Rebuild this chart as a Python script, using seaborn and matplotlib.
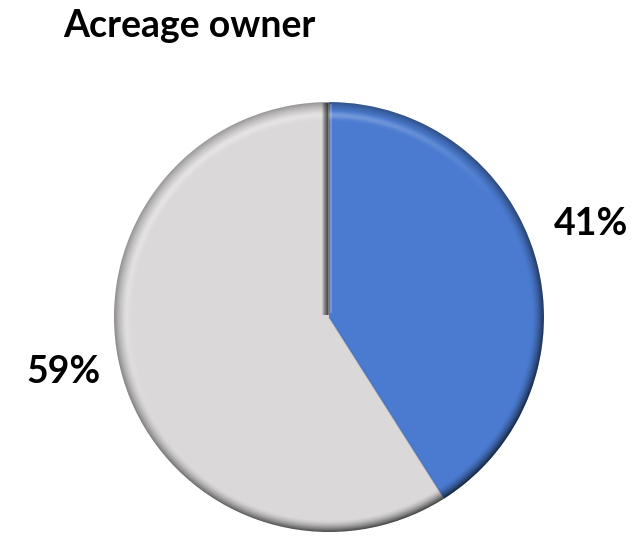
import matplotlib
matplotlib.use("Agg")
import matplotlib.pyplot as plt
import seaborn as sns
import numpy as np
from matplotlib.patches import Circle

sns.set_theme(style="white")
plt.rcParams["font.family"] = ["Lato", "DejaVu Sans"]

categories = ["Owner", "Not owner"]
shares = [41, 59]
pct_labels = ["41%", "59%"]
colors = ["#4a7bd0", "#dad8d9"]
# label anchors (centre x, baseline y) in pie-radius units
label_pos = [(1.22, 0.381), (-1.235, -0.307)]

fig = plt.figure(figsize=(6.41, 5.36), dpi=100)
ax = fig.add_axes([0.1778, 0.0075, 0.6708, 0.802])

wedges, _ = ax.pie(shares, colors=colors, startangle=90, counterclock=False,
                   radius=1.0, wedgeprops=dict(linewidth=0))

# bevel overlay: darker outer rim (deepest toward the lower right)
# and a faint highlight band inside it toward the upper left
n = 700
g = np.linspace(-1, 1, n)
X, Y = np.meshgrid(g, g[::-1])
R = np.hypot(X, Y)
T = np.arctan2(Y, X)
light = np.cos(T - np.deg2rad(125))
ramp = np.clip((R - 0.945) / 0.055, 0, 1) ** 1.6
dark = ramp * (0.30 + 0.12 * (1 - np.abs(light)) + 0.40 * np.clip(-light, 0, None))
shade = np.zeros((n, n, 4))
shade[..., 3] = dark
hi = np.exp(-((R - 0.94) / 0.016) ** 2) * 0.30 * np.clip(light, 0, None)
glow = np.ones((n, n, 4))
glow[..., 3] = hi
clip = Circle((0, 0), 1.0, transform=ax.transData)
for layer in (glow, shade):
    im = ax.imshow(layer, extent=(-1, 1, -1, 1), interpolation="bilinear",
                   zorder=3)
    im.set_clip_path(clip)

# shadow on the grey side of the upright border
px = 1 / 215
for k in range(6):
    ax.plot([-(k + 0.5) * px] * 2, [0.01, 0.997], color="black",
            lw=1.1, alpha=0.55 - k * 0.085, solid_capstyle="butt", zorder=4)
ax.plot([2 * px] * 2, [0.02, 0.99], color="white", lw=1.2, alpha=0.25,
        solid_capstyle="butt", zorder=4)
# faint line along the lower border
t1 = np.deg2rad(wedges[0].theta1)
ax.plot([0, np.cos(t1)], [0, np.sin(t1)], color="#203a6a", lw=1.0, alpha=0.35,
        solid_capstyle="butt", zorder=4)

for (x, y), lab in zip(label_pos, pct_labels):
    ax.text(x, y, lab, ha="center", va="baseline", fontsize=27,
            fontweight="bold", color="black", clip_on=False)

ax.set_xlim(-1, 1)
ax.set_ylim(-1, 1)
ax.set_aspect("equal")
ax.axis("off")

fig.text(0.098, 1 - 37 / 536, "Acreage owner", ha="left", va="baseline",
         fontsize=27, fontweight="bold", color="black")

fig.savefig("out.png", dpi=100)
